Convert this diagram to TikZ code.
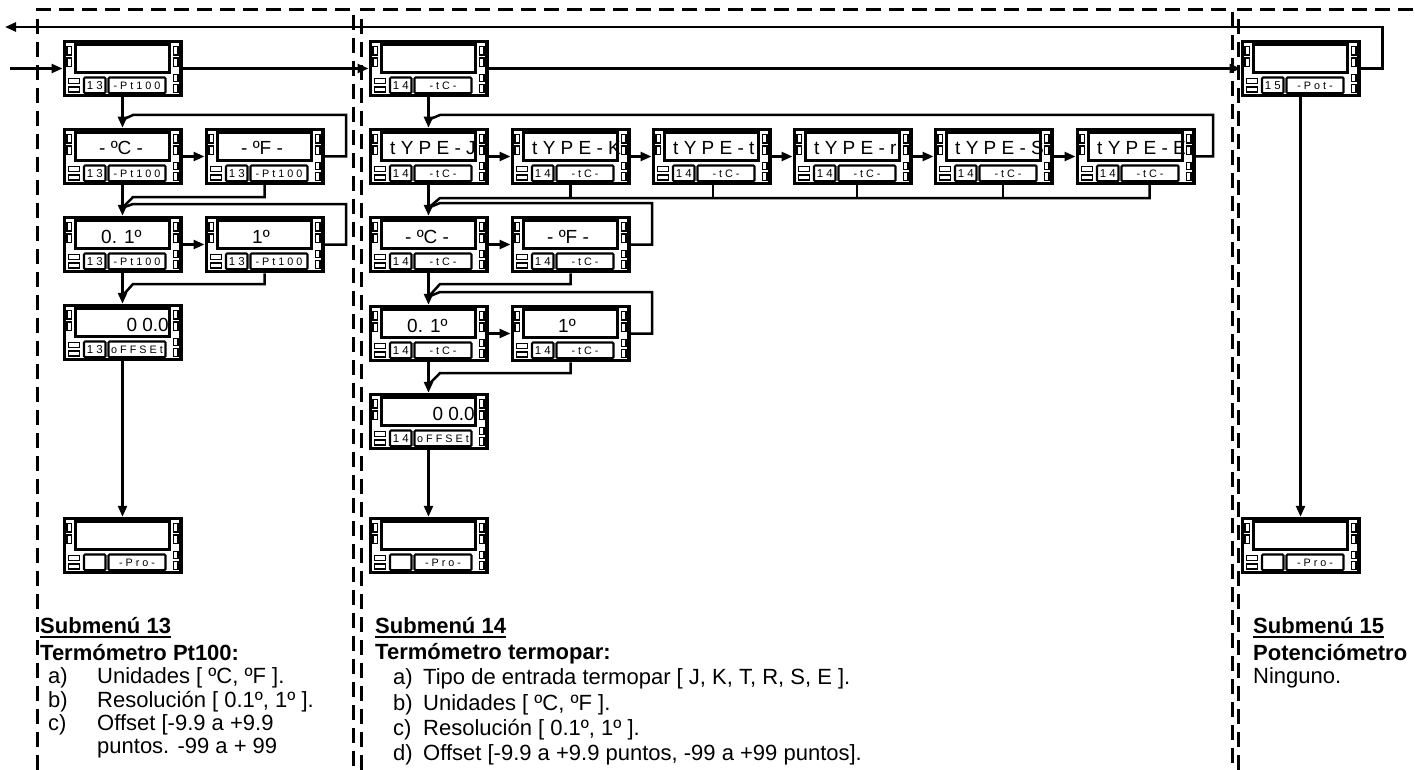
\documentclass[tikz,border=0pt]{standalone}
\usepackage{fontspec}
\setmainfont{Liberation Sans}
\usetikzlibrary{arrows.meta,calc}
\newcommand\ulin[1]{\setbox0=\hbox{#1}\rlap{\rule[-5pt]{\wd0}{2.2pt}}\box0}
\tikzset{
  conn/.style={line width=2.5pt},
  arr/.style={conn,-{Triangle[length=11pt,width=9pt]}},
  panel/.style={line width=3pt,dash pattern=on 15pt off 8pt},
  devframe/.style={draw,line width=3.5pt,fill=white,minimum width=116.5pt,minimum height=54pt,inner sep=0pt},
  disp/.style={line width=2.8pt,fill=white},
  led/.style={line width=1.9pt,fill=white},
  lbl/.style={line width=2.1pt,fill=white,rounded corners=1pt},
  disptext/.style={inner sep=0pt,font=\fontsize{19}{19}\selectfont},
  codetext/.style={inner sep=0pt,font=\fontsize{11.5}{11.5}\selectfont},
  labtext/.style={inner sep=0pt,font=\fontsize{10.8}{10.8}\selectfont},
  body/.style={inner sep=0pt,anchor=base west,font=\fontsize{22}{24}\selectfont},
  bodyb/.style={inner sep=0pt,anchor=base west,font=\fontsize{22}{24}\selectfont\bfseries},
}
% #1 name, #2 x, #3 y, #4 text x, #5 anchor side, #6 display text, #7 code, #8 label
\newcommand\devbox[8]{%
  \node[devframe] (#1) at (#2+59.5,#3+28.5) {};
  \begin{scope}[shift={(#2,#3)}]
    \draw[disp] (12.5,4.8) rectangle (106.3,32.5);
    \begin{scope}
      \clip (14,6.2) rectangle (109.5,31.1);
      \node[disptext,anchor=base #5] (#1-t) at (#4,27) {#6};
    \end{scope}
    \draw[led] (3.8,6.5) rectangle (8.5,15);
    \draw[led] (3.8,18) rectangle (8.5,26.5);
    \draw[led] (110.5,6.5) rectangle (115.2,15);
    \draw[led] (110.5,18) rectangle (115.2,26.5);
    \draw[led] (110.5,34.5) rectangle (115.2,41.5);
    \draw[led] (110.5,44.5) rectangle (115.2,52.5);
    \draw[led] (5.5,38.5) rectangle (16.5,43.5);
    \draw[led] (5.5,47) rectangle (16.5,52.3);
    \draw[lbl] (21,37.5) rectangle (42.5,53.2);
    \node[codetext] (#1-c) at (31.8,45.5) {#7};
    \draw[lbl] (45.5,37.5) rectangle (102.5,53.2);
    \begin{scope}
      \clip (46.6,38.6) rectangle (101.4,52.1);
      \node[labtext] (#1-l) at (74,45.5) {#8};
    \end{scope}
  \end{scope}}
\begin{document}
\begin{tikzpicture}[x=1pt,y=-1pt]
\useasboundingbox[fill=white] (0,0) rectangle (1415,770);
% panels
\draw[panel] (37,770) -- (37,10) -- (353,10) -- (353,770);
\draw[panel] (361,770) -- (361,10) -- (1232,10) -- (1232,770);
\draw[panel] (1238,770) -- (1238,10) -- (1415,10);
% devices: panel 13
\devbox{a13}{63}{40}{59}{west}{}{1 3}{- P t 1 0 0}
\devbox{c13}{63}{128}{36}{west}{- ºC -}{1 3}{- P t 1 0 0}
\devbox{f13}{205}{128}{36}{west}{- ºF -}{1 3}{- P t 1 0 0}
\devbox{d13}{63}{216}{38}{west}{0. 1º}{1 3}{- P t 1 0 0}
\devbox{e13}{205}{216}{47}{west}{1º}{1 3}{- P t 1 0 0}
\devbox{o13}{63}{304}{106}{east}{0 0.0}{1 3}{o F F S E t}
\devbox{p13}{63}{517}{59}{west}{}{}{- P r o -}
% panel 14
\devbox{a14}{369}{40}{59}{west}{}{1 4}{- t C -}
\devbox{j14}{369}{128}{21}{west}{t Y P E - J}{1 4}{- t C -}
\devbox{k14}{511}{128}{21}{west}{t Y P E - K}{1 4}{- t C -}
\devbox{t14}{652}{128}{21}{west}{t Y P E - t}{1 4}{- t C -}
\devbox{r14}{793}{128}{21}{west}{t Y P E - r}{1 4}{- t C -}
\devbox{s14}{934}{128}{21}{west}{t Y P E - S}{1 4}{- t C -}
\devbox{e14}{1076}{128}{21}{west}{t Y P E - E}{1 4}{- t C -}
\devbox{c14}{369}{216}{36}{west}{- ºC -}{1 4}{- t C -}
\devbox{f14}{511}{216}{36}{west}{- ºF -}{1 4}{- t C -}
\devbox{d14}{369}{305}{38}{west}{0. 1º}{1 4}{- t C -}
\devbox{g14}{511}{305}{47}{west}{1º}{1 4}{- t C -}
\devbox{o14}{369}{393}{106}{east}{0 0.0}{1 4}{o F F S E t}
\devbox{p14}{369}{517}{59}{west}{}{}{- P r o -}
% panel 15
\devbox{a15}{1241}{40}{59}{west}{}{1 5}{- P o t -}
\devbox{p15}{1241}{517}{59}{west}{}{}{- P r o -}
% main line
\coordinate (in) at (10,68.5);
\coordinate (ret) at (5,27);
\draw[arr] (in) -- (a13.west);
\draw[arr] (a13.east) -- (a14.west);
\draw[arr] (a14.east) -- (a15.west);
\draw[arr] (a15.east) -- ++(22,0) |- (ret);
% panel 13 connectors
\draw[arr] (a13.south) -- (c13.north);
\draw[arr] (c13.east) -- (f13.west);
\draw[arr] (c13.south) -- (d13.north);
\draw[arr] (d13.east) -- (e13.west);
\draw[arr] (d13.south) -- (o13.north);
\draw[arr] (o13.south) -- (p13.north);
\draw[conn] (f13.east) -| (346,115) -- (133,115) -- ($(c13.north)+(0,-8)$);
\draw[conn] (f13.south) |- (133,197) -- ($(d13.north)+(0,-8)$);
\draw[conn] (e13.east) -| (346,204) -- (133,204) -- ($(d13.north)+(0,-8)$);
\draw[conn] (e13.south) |- (133,284) -- ($(o13.north)+(0,-8)$);
% panel 14 connectors
\draw[arr] (a14.south) -- (j14.north);
\draw[arr] (j14.east) -- (k14.west);
\draw[arr] (k14.east) -- (t14.west);
\draw[arr] (t14.east) -- (r14.west);
\draw[arr] (r14.east) -- (s14.west);
\draw[arr] (s14.east) -- (e14.west);
\draw[conn] (e14.east) -| (1213,115) -- (440,115) -- ($(j14.north)+(0,-8)$);
\draw[arr] (j14.south) -- (c14.north);
\draw[conn] ($(e14.south)+(14,0)$) |- (440,198) -- ($(c14.north)+(0,-8)$);
\draw[conn] ($(s14.south)+(9.5,0)$) -- ++(0,13);
\draw[conn] ($(r14.south)+(4.5,0)$) -- ++(0,13);
\draw[conn] ($(t14.south)+(1.5,0)$) -- ++(0,13);
\draw[conn] (k14.south) -- ++(0,13);
\draw[conn] (f14.east) -| (652,203) -- (440,203) -- ($(c14.north)+(0,-8)$);
\draw[arr] (c14.east) -- (f14.west);
\draw[arr] (c14.south) -- (d14.north);
\draw[conn] (f14.south) |- (440,284) -- ($(d14.north)+(0,-8)$);
\draw[conn] (g14.east) -| (652,292) -- (440,292) -- ($(d14.north)+(0,-8)$);
\draw[arr] (d14.east) -- (g14.west);
\draw[arr] (d14.south) -- (o14.north);
\draw[conn] (g14.south) |- (440,373) -- ($(o14.north)+(0,-8)$);
\draw[arr] (o14.south) -- (p14.north);
% panel 15
\draw[arr] (a15.south) -- (p15.north);
% texts
\node[bodyb] (s13h) at (40,633) {\ulin{Submenú 13}};
\node[bodyb] (s13t) at (40,660) {Termómetro Pt100:};
\node[body] (s13a) at (48,683) {\makebox[49pt][l]{a)}Unidades [ ºC, ºF ].};
\node[body] (s13b) at (48,707) {\makebox[49pt][l]{b)}Resolución [ 0.1º, 1º ].};
\node[body] (s13c) at (48,730) {\makebox[49pt][l]{c)}Offset [-9.9 a +9.9};
\node[body] (s13d) at (97,753) {puntos. -99 a + 99};
\node[bodyb] (s14h) at (375,633) {\ulin{Submenú 14}};
\node[bodyb] (s14t) at (375,659) {Termómetro termopar:};
\node[body] (s14a) at (393,684) {\makebox[30pt][l]{a)}Tipo de entrada termopar [ J, K, T, R, S, E ].};
\node[body] (s14b) at (393,710) {\makebox[30pt][l]{b)}Unidades [ ºC, ºF ].};
\node[body] (s14c) at (393,735) {\makebox[30pt][l]{c)}Resolución [ 0.1º, 1º ].};
\node[body] (s14d) at (393,760) {\makebox[30pt][l]{d)}Offset [-9.9 a +9.9 puntos, -99 a +99 puntos].};
\node[bodyb] (s15h) at (1253,633) {\ulin{Submenú 15}};
\node[bodyb] (s15t) at (1253,660) {Potenciómetro};
\node[body] (s15a) at (1253,683) {Ninguno.};
\end{tikzpicture}
\end{document}
